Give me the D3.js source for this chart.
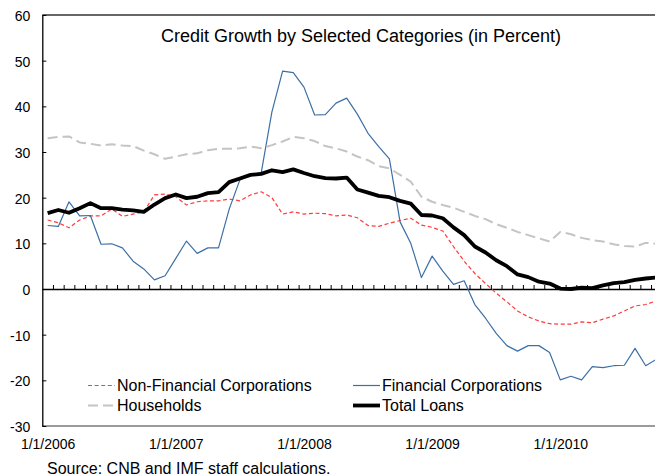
<!DOCTYPE html>
<html>
<head>
<meta charset="utf-8">
<script src="https://cdn.jsdelivr.net/npm/d3@7/dist/d3.min.js"></script>
<style>
  html, body { margin: 0; padding: 0; background: #fff; }
  svg { display: block; font-family: Arial, "Liberation Sans", sans-serif; }
</style>
</head>
<body>
<svg id="chart" width="655" height="476"></svg>
<script>
// Monthly credit growth, Jan 2006 .. Oct 2010 (year-on-year, percent)
const months = d3.timeMonth.range(new Date(2006, 0, 1), new Date(2010, 10, 1));

const nonFinancial = [15.1, 14.5, 13.4, 15.1, 16.0, 16.0, 17.5, 15.9, 16.4, 16.9, 20.6, 20.8,
  20.2, 18.4, 19.1, 19.3, 19.3, 19.7, 19.3, 20.6, 21.3, 20.0, 16.4, 16.9,
  16.4, 16.6, 16.5, 16.0, 16.2, 15.6, 13.9, 13.7, 14.4, 15.0, 15.5, 14.0,
  13.5, 12.7, 9.3, 6.1, 3.4, 1.2, -0.9, -2.8, -4.8, -6.1, -7.0, -7.6,
  -7.7, -7.7, -7.2, -7.4, -6.6, -5.9, -4.8, -3.7, -3.4, -2.6];

const financial = [13.9, 13.7, 19.1, 16.0, 16.1, 9.8, 9.9, 9.0, 6.1, 4.4, 2.0, 2.9,
  6.7, 10.5, 7.8, 9.0, 9.0, 17.5, 23.9, 25.0, 25.5, 38.8, 47.7, 47.4,
  44.2, 38.1, 38.2, 40.7, 41.8, 38.3, 34.1, 31.2, 28.5, 14.7, 10.0, 2.5,
  7.2, 3.9, 1.0, 1.8, -3.4, -6.4, -9.7, -12.4, -13.6, -12.4, -12.4, -13.9,
  -19.9, -19.1, -19.9, -17.0, -17.2, -16.8, -16.7, -13.0, -16.8, -15.4];

const households = [33.0, 33.3, 33.4, 32.1, 31.8, 31.4, 31.7, 31.4, 31.3, 30.3, 29.5, 28.5,
  29.0, 29.5, 29.7, 30.4, 30.7, 30.7, 30.8, 31.2, 30.8, 31.5, 32.3, 33.3,
  33.0, 32.4, 31.3, 30.8, 30.1, 29.0, 28.2, 26.9, 26.4, 25.0, 23.5, 20.2,
  19.1, 18.4, 17.8, 16.9, 16.0, 15.3, 14.2, 13.4, 12.5, 11.8, 11.1, 10.4,
  12.5, 12.0, 11.2, 10.7, 10.4, 9.8, 9.4, 9.3, 10.1, 9.9];

const totalLoans = [16.6, 17.3, 16.7, 17.7, 18.8, 17.7, 17.7, 17.4, 17.2, 16.9, 18.5, 19.9,
  20.7, 19.9, 20.2, 21.0, 21.2, 23.4, 24.2, 25.0, 25.2, 26.0, 25.6, 26.2,
  25.4, 24.7, 24.3, 24.2, 24.4, 21.8, 21.1, 20.4, 20.1, 19.3, 18.7, 16.2,
  16.1, 15.5, 13.5, 11.8, 9.3, 8.0, 6.3, 5.0, 3.2, 2.6, 1.6, 1.2,
  0.1, 0.0, 0.3, 0.2, 0.8, 1.3, 1.5, 2.0, 2.3, 2.5];

const yTicks = [-30, -20, -10, 0, 10, 20, 30, 40, 50, 60];
const xTickLabels = ["1/1/2006", "1/1/2007", "1/1/2008", "1/1/2009", "1/1/2010"];
const xTickIndex = [0, 12, 24, 36, 48];

const seriesDefs = [
  { name: "Non-Financial Corporations", values: nonFinancial, color: "#ff3b3b", width: 1.2, dash: "4,2.6" },
  { name: "Financial Corporations", values: financial, color: "#3c6fa5", width: 1.2, dash: null },
  { name: "Households", values: households, color: "#c4c4c4", width: 2, dash: "10,5" },
  { name: "Total Loans", values: totalLoans, color: "#000000", width: 3.8, dash: null }
];

const svg = d3.select("#chart");
const plotLeft = 42.3, plotTop = 15, plotBottom = 426;
const monthWidth = 10.68;
const plotRight = plotLeft + months.length * monthWidth;
const W = 655;

// category index scale: boundaries at integers, points at band centres
const x = d3.scaleLinear().domain([0, months.length]).range([plotLeft, plotRight]);
const y = d3.scaleLinear().domain([-30, 60]).range([plotBottom, plotTop]);

// plot frame: top edge and bottom edge
svg.append("line").attr("x1", plotLeft).attr("x2", W).attr("y1", y(60)).attr("y2", y(60))
  .attr("stroke", "#333").attr("stroke-width", 1.3);
svg.append("line").attr("x1", plotLeft).attr("x2", W).attr("y1", y(-30)).attr("y2", y(-30))
  .attr("stroke", "#7a7a7a").attr("stroke-width", 1.3);

// y axis, ticks pointing into the plot; plain hyphen for negatives
const yAxis = svg.append("g").attr("transform", `translate(${plotLeft},0)`)
  .call(d3.axisLeft(y).tickValues(yTicks).tickSizeInner(-4).tickSizeOuter(0).tickPadding(12)
    .tickFormat(d => String(d)));
yAxis.select(".domain").attr("stroke", "#000").attr("stroke-width", 1.3);
yAxis.selectAll(".tick line").attr("stroke", "#000");
yAxis.selectAll("text").attr("font-size", 14).attr("fill", "#000")
  .attr("font-family", "Arial, 'Liberation Sans', sans-serif").attr("dy", "0.4em");

// category axis along zero with monthly tick marks
const zeroAxis = svg.append("g").attr("transform", `translate(0,${y(0)})`)
  .call(d3.axisBottom(x).tickValues(d3.range(1, months.length)).tickSizeInner(-4)
    .tickSizeOuter(0).tickFormat(""));
zeroAxis.select(".domain").attr("stroke", "#000").attr("stroke-width", 1.3);
zeroAxis.selectAll(".tick line").attr("stroke", "#000");

// date labels below the plot
const labelAxis = svg.append("g").attr("transform", `translate(0,${y(-30)})`)
  .call(d3.axisBottom(x).tickValues(xTickIndex.map(i => i + 0.5)).tickSize(0).tickPadding(13)
    .tickFormat((d, i) => xTickLabels[i]));
labelAxis.select(".domain").remove();
labelAxis.selectAll("text").attr("font-size", 14).attr("fill", "#000")
  .attr("font-family", "Arial, 'Liberation Sans', sans-serif");

// series lines, clipped to the visible plot area
svg.append("clipPath").attr("id", "plotClip")
  .append("rect").attr("x", plotLeft).attr("y", 0).attr("width", W - plotLeft).attr("height", 476);

const line = d3.line().x((d, i) => x(i + 0.5)).y(d => y(d));
const linesG = svg.append("g").attr("clip-path", "url(#plotClip)");
seriesDefs.forEach(s => {
  linesG.append("path").datum(s.values)
    .attr("d", line).attr("fill", "none")
    .attr("stroke", s.color).attr("stroke-width", s.width)
    .attr("stroke-dasharray", s.dash)
    .attr("stroke-linejoin", "round");
});

// title
svg.append("text").attr("x", 361).attr("y", 42).attr("text-anchor", "middle")
  .attr("font-size", 18).attr("fill", "#000")
  .text("Credit Growth by Selected Categories (in Percent)");

// legend, two columns
const legendPos = [
  { sx: 88, ty: 391 }, { sx: 353, ty: 391 },
  { sx: 88, ty: 411 }, { sx: 353, ty: 411 }
];
seriesDefs.forEach((s, i) => {
  const p = legendPos[i];
  const g = svg.append("g");
  g.append("line").attr("x1", p.sx).attr("x2", p.sx + 27)
    .attr("y1", p.ty - 5.5).attr("y2", p.ty - 5.5)
    .attr("stroke", s.color).attr("stroke-width", s.width)
    .attr("stroke-dasharray", s.dash);
  g.append("text").attr("x", p.sx + 29).attr("y", p.ty)
    .attr("font-size", 16).attr("fill", "#000").text(s.name);
});

// source note
svg.append("text").attr("x", 47).attr("y", 474).attr("font-size", 16).attr("fill", "#000")
  .text("Source: CNB and IMF staff calculations.");
</script>
</body>
</html>
